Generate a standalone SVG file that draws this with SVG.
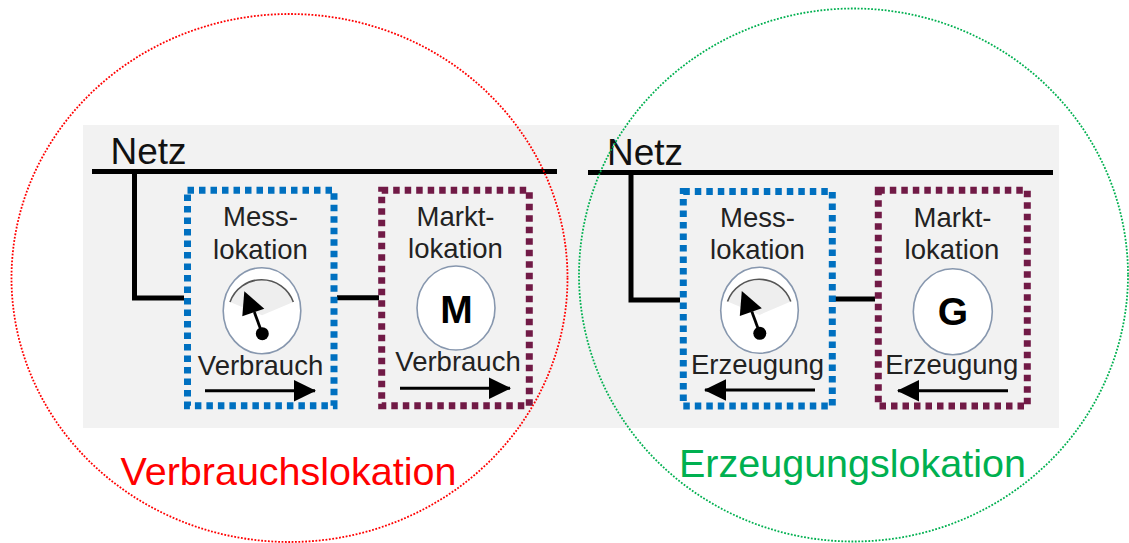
<svg xmlns="http://www.w3.org/2000/svg" width="1129" height="543" viewBox="0 0 1129 543">
  <style>
    text { font-family: "Liberation Sans", Arial, sans-serif; }
    .netz { font-size: 37px; fill: #111; }
    .lbl { font-size: 27.5px; fill: #222; text-anchor: middle; }
    .big { font-size: 39px; font-weight: bold; fill: #000; text-anchor: middle; }
    .wire { stroke: #000; stroke-width: 5; fill: none; stroke-linecap: butt; stroke-linejoin: miter; }
    .blue { fill: none; stroke: #0070C0; stroke-width: 7; stroke-dasharray: 6.5 5; }
    .maroon { fill: none; stroke: #711A46; stroke-width: 7; stroke-dasharray: 6.5 5; }
    .flow { stroke: #000; stroke-width: 3; fill: none; marker-end: url(#ah); }
    .disc { fill: #fff; stroke: #8797AE; stroke-width: 1.6; }
    .zone-red { fill: none; stroke: #FF0000; stroke-width: 1.8; stroke-dasharray: 1.8 1.6; }
    .zone-green { fill: none; stroke: #00B050; stroke-width: 1.8; stroke-dasharray: 1.8 1.6; }
    .zlabel { font-size: 39.5px; }
  </style>
  <defs>
    <marker id="ah" viewBox="0 0 22 22" markerWidth="22" markerHeight="22" markerUnits="userSpaceOnUse" refX="21" refY="11" orient="auto">
      <path d="M0,0.3 L22,11 L0,21.7 Z" fill="#000"/>
    </marker>
    <g id="gauge">
      <ellipse class="disc" cx="0" cy="0" rx="38.8" ry="43"/>
      <path d="M-32,-8.7 A33.6 33.6 0 0 1 31.3,-8.7 L0,4.6 Z" fill="#eeeeee"/>
      <path d="M-32,-8.7 A33.6 33.6 0 0 1 31.3,-8.7" fill="none" stroke="#555" stroke-width="1.6"/>
      <line x1="-7.7" y1="1.3" x2="0.3" y2="23" stroke="#000" stroke-width="2.8"/>
      <polygon points="-17.7,-19.4 -19.7,5.6 2.3,-2" fill="#000"/>
      <circle cx="0.3" cy="23" r="6.5" fill="#000"/>
    </g>
  </defs>

  <rect x="0" y="0" width="1129" height="543" fill="#fff"/>
  <rect id="background" x="83" y="125" width="976" height="303" fill="#F2F2F2"/>

  <g id="connectors">
    <line class="wire" x1="92" y1="171.5" x2="557" y2="171.5"/>
    <polyline class="wire" points="134.5,171.5 134.5,298 184,298"/>
    <line class="wire" x1="337" y1="297.7" x2="379" y2="297.7"/>
    <line class="wire" x1="588" y1="172.5" x2="1053" y2="172.5"/>
    <polyline class="wire" points="631,172.5 631,300 680,300"/>
    <line class="wire" x1="835" y1="299" x2="875" y2="299"/>
  </g>

  <g id="netz-left">
    <text class="netz" x="110.5" y="164">Netz</text>
  </g>
  <g id="netz-right">
    <text class="netz" x="607" y="165">Netz</text>
  </g>

  <g id="messlokation-verbrauch">
    <rect class="blue" x="187.5" y="190.3" width="146.5" height="215.4"/>
    <text class="lbl" x="260.5" y="226">Mess-</text>
    <text class="lbl" x="260.5" y="259">lokation</text>
    <use href="#gauge" x="262" y="310.7"/>
    <text class="lbl" x="260.5" y="375">Verbrauch</text>
    <line class="flow" x1="205" y1="390.7" x2="315" y2="390.7"/>
  </g>

  <g id="marktlokation-verbrauch">
    <rect class="maroon" x="381.7" y="190.3" width="147.6" height="215.4"/>
    <text class="lbl" x="455.5" y="226">Markt-</text>
    <text class="lbl" x="455.5" y="258">lokation</text>
    <ellipse class="disc" cx="456" cy="308" rx="39" ry="42"/>
    <text class="big" x="456.4" y="323.3">M</text>
    <text class="lbl" x="458" y="371">Verbrauch</text>
    <line class="flow" x1="400" y1="388.3" x2="510" y2="388.3"/>
  </g>

  <g id="messlokation-erzeugung">
    <rect class="blue" x="683.3" y="191.5" width="149" height="214.5"/>
    <text class="lbl" x="757.5" y="227">Mess-</text>
    <text class="lbl" x="757.5" y="259.3">lokation</text>
    <use href="#gauge" x="759.5" y="310.3"/>
    <text class="lbl" x="757.5" y="373.5">Erzeugung</text>
    <line class="flow" x1="815" y1="390" x2="705" y2="390"/>
  </g>

  <g id="marktlokation-erzeugung">
    <rect class="maroon" x="878.3" y="190.3" width="149" height="215.7"/>
    <text class="lbl" x="952.5" y="227">Markt-</text>
    <text class="lbl" x="952" y="259">lokation</text>
    <ellipse class="disc" cx="952.8" cy="311.7" rx="39.5" ry="43"/>
    <text class="big" x="953" y="325">G</text>
    <text class="lbl" x="951.7" y="374">Erzeugung</text>
    <line class="flow" x1="1008" y1="390.7" x2="898" y2="390.7"/>
  </g>

  <g id="verbrauchslokation">
    <ellipse class="zone-red" cx="289.5" cy="278" rx="278" ry="264"/>
    <text class="zlabel" x="120.5" y="485" fill="#FF0000">Verbrauchslokation</text>
  </g>

  <g id="erzeugungslokation">
    <ellipse class="zone-green" cx="853.5" cy="275" rx="274.5" ry="266.5"/>
    <text class="zlabel" x="679" y="476.5" fill="#00B050">Erzeugungslokation</text>
  </g>
</svg>
